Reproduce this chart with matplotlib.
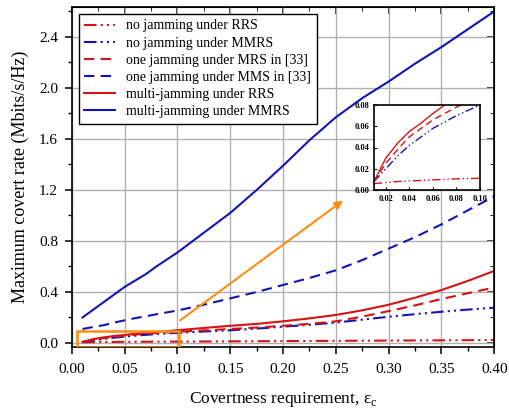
import numpy as np
import matplotlib
matplotlib.use("Agg")
import matplotlib.pyplot as plt
from matplotlib.patches import Rectangle

plt.rcParams['font.family'] = ['Liberation Serif', 'DejaVu Serif']
plt.rcParams['mathtext.fontset'] = 'custom'
plt.rcParams['mathtext.rm'] = 'Liberation Serif'

x = [0.01, 0.02, 0.03, 0.04, 0.05, 0.06, 0.07, 0.08, 0.09, 0.10, 0.125, 0.15, 0.175, 0.20, 0.225, 0.25, 0.275, 0.30, 0.325, 0.35, 0.375, 0.40]

no_jam_rrs = [0.006, 0.007, 0.008, 0.0085, 0.009, 0.0095, 0.010, 0.0105, 0.0108, 0.011, 0.012, 0.013, 0.014, 0.015, 0.016, 0.017, 0.018, 0.019, 0.020, 0.021, 0.022, 0.024]
no_jam_mmrs = [0.008, 0.020, 0.032, 0.042, 0.050, 0.058, 0.064, 0.070, 0.075, 0.080, 0.090, 0.100, 0.113, 0.128, 0.143, 0.160, 0.183, 0.206, 0.226, 0.245, 0.262, 0.277]
one_jam_mrs = [0.008, 0.025, 0.038, 0.050, 0.058, 0.066, 0.072, 0.078, 0.083, 0.088, 0.099, 0.110, 0.121, 0.135, 0.150, 0.170, 0.207, 0.250, 0.295, 0.345, 0.390, 0.435]
one_jam_mms = [0.11, 0.125, 0.14, 0.16, 0.178, 0.195, 0.21, 0.225, 0.24, 0.255, 0.30, 0.35, 0.40, 0.455, 0.51, 0.57, 0.65, 0.74, 0.83, 0.93, 1.04, 1.15]
multi_jam_rrs = [0.008, 0.030, 0.044, 0.055, 0.063, 0.072, 0.080, 0.087, 0.093, 0.100, 0.118, 0.135, 0.150, 0.170, 0.193, 0.220, 0.256, 0.300, 0.355, 0.415, 0.487, 0.565]
multi_jam_mmrs = [0.20, 0.26, 0.32, 0.38, 0.44, 0.49, 0.54, 0.60, 0.655, 0.71, 0.865, 1.02, 1.20, 1.39, 1.59, 1.77, 1.92, 2.05, 2.19, 2.32, 2.46, 2.60]

labels = ["no jamming under RRS", "no jamming under MMRS",
          "one jamming under MRS in [33]", "one jamming under MMS in [33]",
          "multi-jamming under RRS", "multi-jamming under MMRS"]

red = '#d41414'
blue = '#1414b4'
orange = '#ff8c10'
dadd = (0, (6, 2, 1, 2, 1, 2))
styles = [(no_jam_rrs, red, dadd), (no_jam_mmrs, blue, dadd),
          (one_jam_mrs, red, (0, (5, 3))), (one_jam_mms, blue, (0, (5, 3))),
          (multi_jam_rrs, red, '-'), (multi_jam_mmrs, blue, '-')]

fig = plt.figure(figsize=(5.10, 4.09), dpi=100)
ax = fig.add_axes([0.141, 0.152, 0.828, 0.831])
for (y, c, ls), lab in zip(styles, labels):
    ax.plot(x, y, color=c, linestyle=ls, lw=1.5, label=lab)

xt = np.arange(0, 0.401, 0.05)
yt = np.arange(0, 2.41, 0.4)
xm = np.arange(0.025, 0.4, 0.05)
ym = np.arange(0.2, 2.61, 0.4)
ax.set_xlim(0, 0.4)
ax.set_ylim(-0.03, 2.635)
ax.set_xticks(xt)
ax.set_xticklabels([f"{v:.2f}" for v in xt])
ax.set_yticks(yt)
ax.set_yticklabels([f"{v:.1f}" for v in yt])
ax.set_xticks(xm, minor=True)
ax.set_yticks(ym, minor=True)
ax.grid(True, which='major', color='#b0b0b0', lw=1.0)
ax.tick_params(axis='both', which='both', labelsize=11, direction='out')
ax.tick_params(which='major', length=5, width=1.1)
ax.tick_params(which='minor', length=3, width=1.0)
ax.tick_params(axis='x', which='major', pad=7)
ax.tick_params(axis='y', which='major', pad=5)
for s in ax.spines.values():
    s.set_linewidth(1.2)

top = ax.secondary_xaxis('top')
top.set_xticks(xt)
top.set_xticks(xm, minor=True)
top.tick_params(which='both', direction='in', labeltop=False)
top.tick_params(which='major', length=5, width=1.1)
top.tick_params(which='minor', length=3)
right = ax.secondary_yaxis('right')
right.set_yticks(yt)
right.set_yticks(ym, minor=True)
right.tick_params(which='both', direction='in', labelright=False)
right.tick_params(which='major', length=5, width=1.1)
right.tick_params(which='minor', length=3)

ax.set_xlabel(r"Covertness requirement, ε$_\mathrm{c}$", fontsize=12.5, labelpad=10)
ax.set_ylabel("Maximum covert rate (Mbits/s/Hz)", fontsize=13, labelpad=7)

leg = ax.legend(loc='upper left', fontsize=10, frameon=True, fancybox=False,
                edgecolor='black', handlelength=2.2, borderaxespad=0.5,
                labelspacing=0.3, framealpha=1)
leg.get_frame().set_linewidth(1.0)

ax.add_patch(Rectangle((0.0045, -0.03), 0.0965, 0.127, fill=False,
                       edgecolor=orange, lw=1.8, zorder=5))
ax.annotate("", xy=(0.259, 1.13), xytext=(0.1005, 0.165),
            arrowprops=dict(arrowstyle='-|>', color=orange, lw=1.5,
                            mutation_scale=12))

ins = fig.add_axes([374/510, 1-190/409, 106/510, 85/409])
for (y, c, ls), lab in zip(styles, labels):
    ins.plot(x, y, color=c, linestyle=ls, lw=1.0)
ins.set_xlim(0.01, 0.10)
ins.set_ylim(0, 0.08)
ins.set_xticks([0.02, 0.04, 0.06, 0.08, 0.10])
ins.set_xticklabels(["0.02", "0.04", "0.06", "0.08", "0.10"])
ins.set_yticks([0.0, 0.02, 0.04, 0.06, 0.08])
ins.set_yticklabels(["0.00", "0.02", "0.04", "0.06", "0.08"])
ins.tick_params(labelsize=6, direction='in', length=2)
for t in ins.get_xticklabels() + ins.get_yticklabels():
    t.set_fontweight('bold')
for s in ins.spines.values():
    s.set_linewidth(1.2)
ins.patch.set_facecolor('white')

fig.savefig("out.png", dpi=100)
